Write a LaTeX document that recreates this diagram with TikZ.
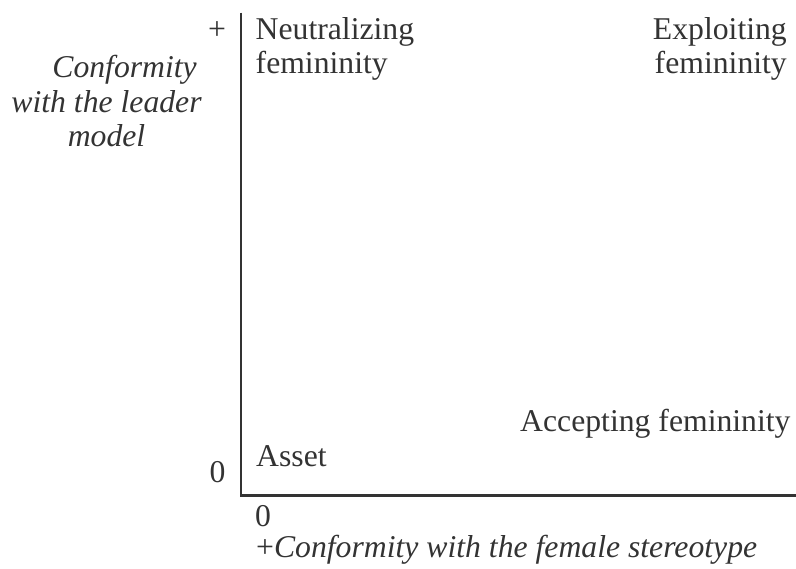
\documentclass[tikz,border=0pt]{standalone}
\usepackage{fontspec}
\setmainfont{Liberation Serif}
\definecolor{ink}{HTML}{333333}
\begin{document}
\begin{tikzpicture}[x=1pt,y=-1pt,
  lbl/.style={inner sep=0pt,text=ink,font=\fontsize{31.7}{34}\selectfont},
  axislbl/.style={inner sep=0pt,text=ink,font=\fontsize{31.7}{35}\selectfont\itshape},
  axisline/.style={draw=ink,line width=2.4pt}]
\useasboundingbox (0,0) rectangle (796,569);
\coordinate (ytop) at (240.7,12.7);
\coordinate (orig) at (240.7,495.5);
\coordinate (xend) at (796,495.5);
\draw[axisline] (ytop) -- (orig) -- (xend);
\node[lbl,anchor=base] (plus) at (217,40) {+};
\node[lbl,anchor=base west] (neut1) at (255.5,40) {Neutralizing};
\node[lbl,anchor=base west] (neut2) at (255.5,74) {femininity};
\node[lbl,anchor=base east] (expl1) at (787,40) {Exploiting};
\node[lbl,anchor=base east] (expl2) at (787,74) {femininity};
\node[axislbl,anchor=base east] (yl1) at (197,77.3) {Conformity};
\node[axislbl,anchor=base] (yl2) at (106.5,112.5) {with the leader};
\node[axislbl,anchor=base] (yl3) at (106.5,147) {model};
\node[lbl,anchor=base east] (acc) at (790.7,431.5) {Accepting femininity};
\node[lbl,anchor=base west] (asset) at (256,466.5) {Asset};
\node[lbl,anchor=base west] (yzero) at (209.5,482.7) {0};
\node[lbl,anchor=base west] (xzero) at (255,526) {0};
\node[lbl,anchor=base west] (xl) at (256,557) {+\textit{Conformity with the female stereotype}};
\end{tikzpicture}
\end{document}
